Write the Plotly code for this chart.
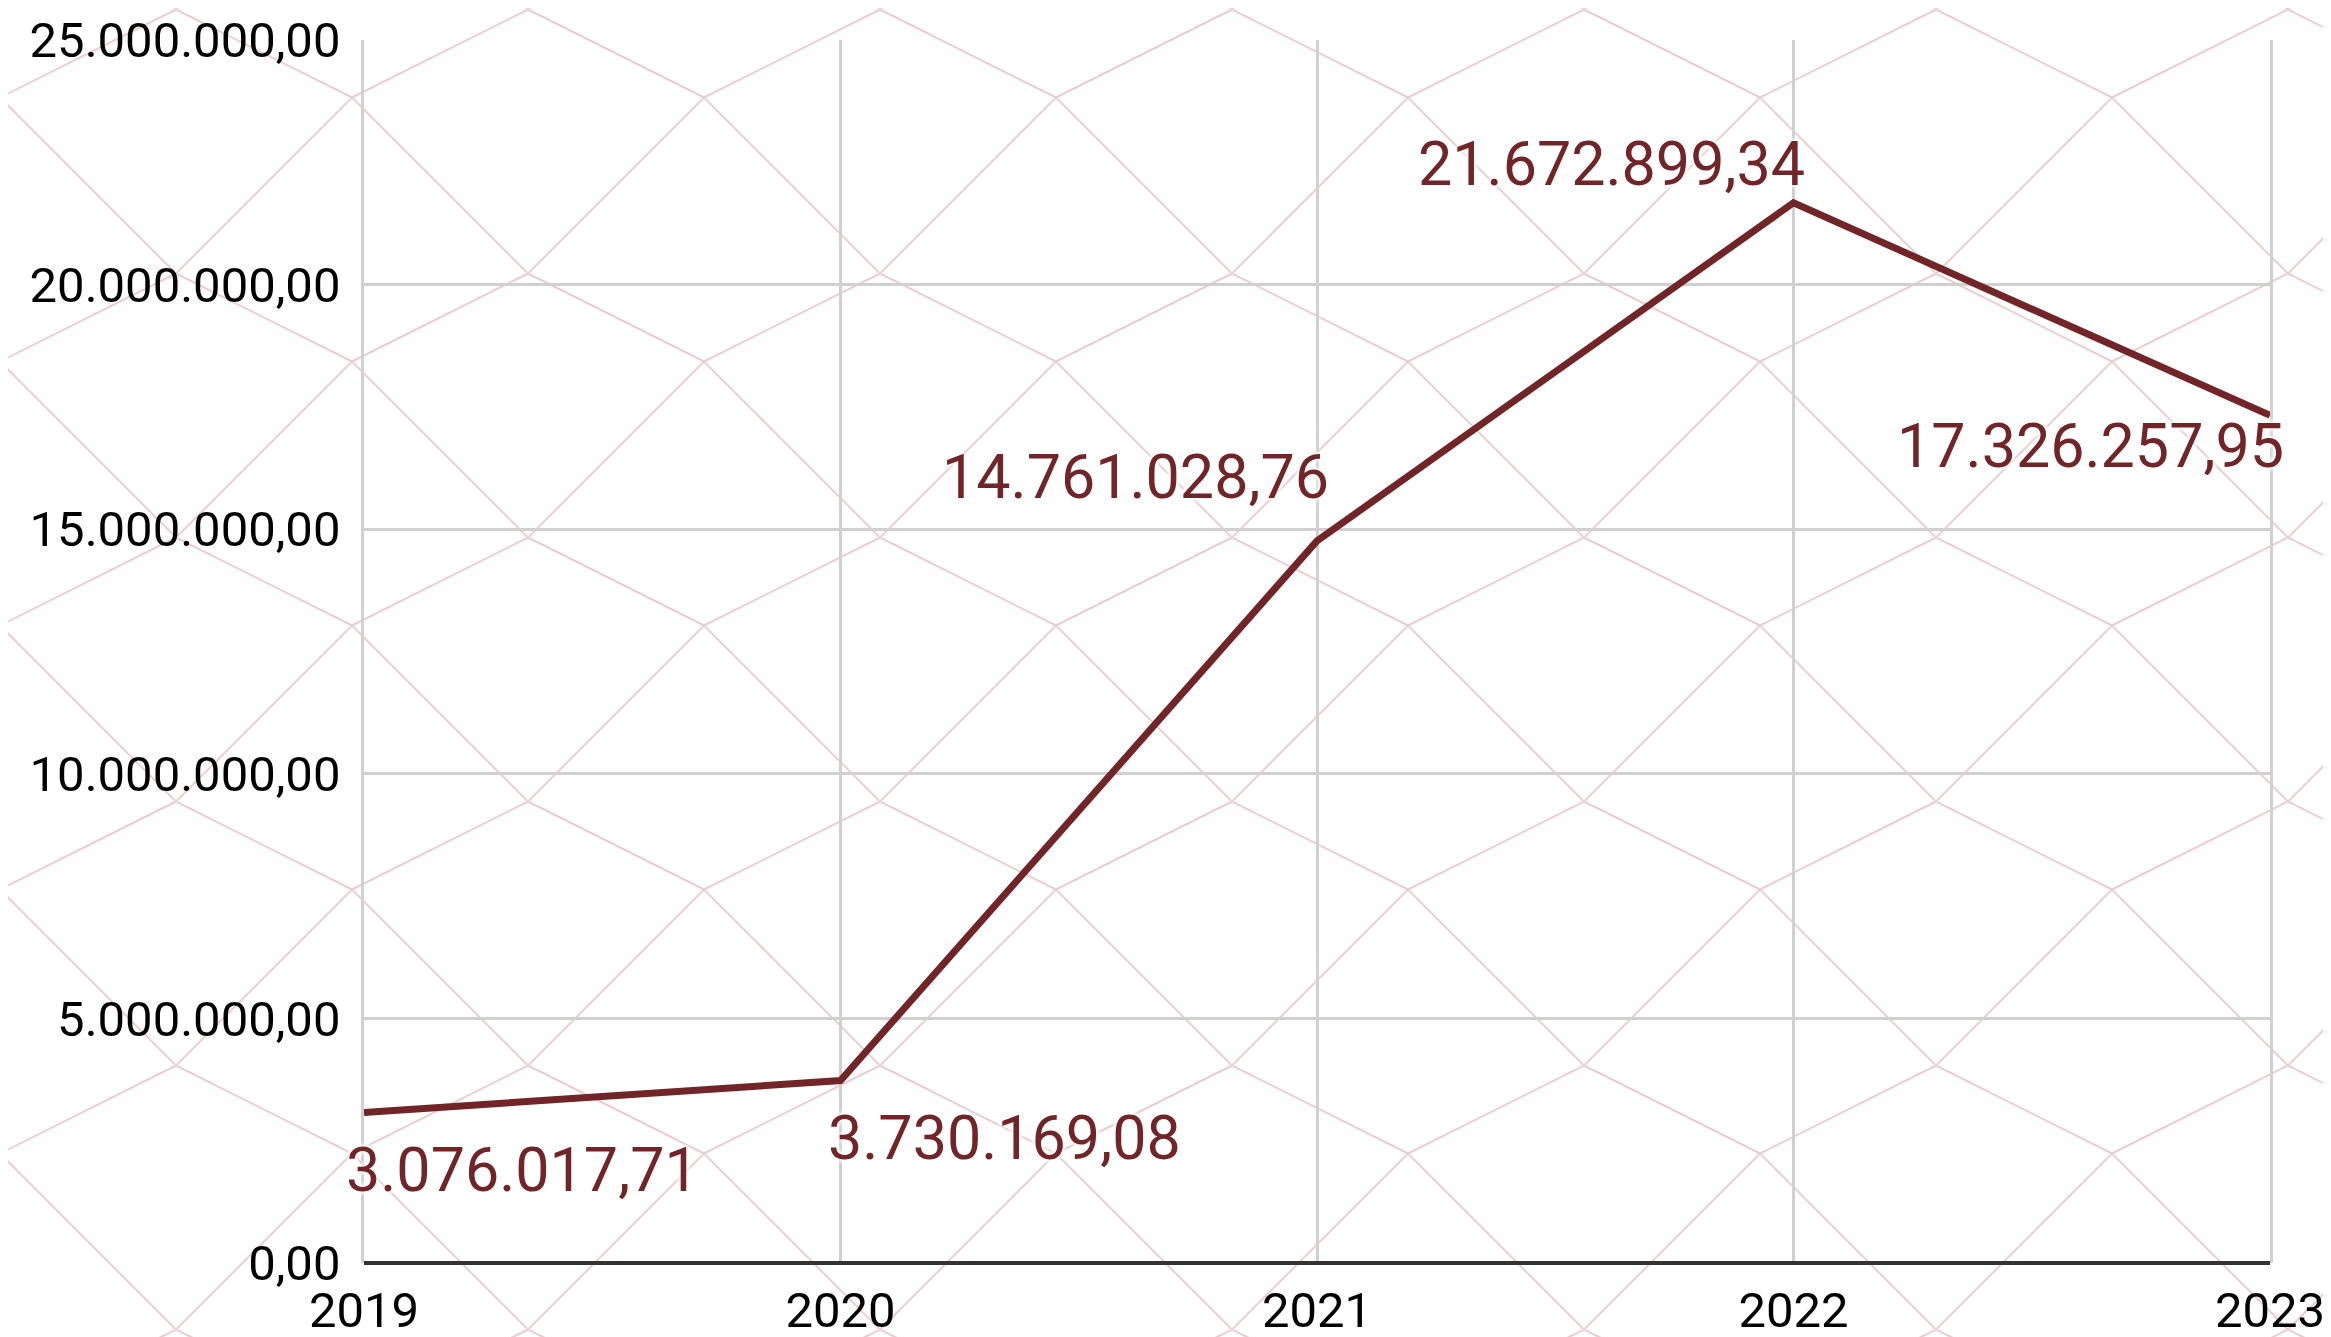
"""
plot.py — 年度金額折線圖（含背景幾何紋路）
"""
import plotly.graph_objects as go

# 資料
years = [2019, 2020, 2021, 2022, 2023]
values = [3076017.71, 3730169.08, 14761028.76, 21672899.34, 17326257.95]
y_ticks = [0, 5000000, 10000000, 15000000, 20000000, 25000000]

# 標籤位置（對齊方式、像素位移）
label_anchor = ['left', 'left', 'right', 'right', 'right']
label_xshift = [-20, -15, 14, 13, 16]
label_yshift = [-57, -57, 64, 39, -31]

W, H = 2331, 1337
OFF = 8  # 頁面 body 預設邊距
ML, MR, MT, MB = 356, 69, 32, 82
LINE_COLOR = '#722528'
GRID = '#d0d0d0'
FONT = 'Roboto, "Noto Sans", sans-serif'


def fmt_br(v):
    """千分位用點、小數用逗號。"""
    return f'{v:,.2f}'.replace(',', 'X').replace('.', ',').replace('X', '.')


def pattern_path():
    """背景折線紋路，螢幕像素座標換算為 paper 座標。"""
    pw = W - ML - MR
    ph = H - MT - MB

    def p(x, y):
        x, y = x - OFF, y - OFF
        return f'{(x - ML) / pw:.5f},{(H - MB - y) / ph:.5f}'

    parts = []
    for k in range(-1, 9):
        for m in range(-2, 7):
            tx, ty = 352 * k, 97.5 + 264 * m
            bx, by = tx + 176, ty + 176
            # 陡線：T -> 兩側 B
            parts.append(f'M{p(tx, ty)} L{p(tx - 176, ty + 176)}')
            parts.append(f'M{p(tx, ty)} L{p(tx + 176, ty + 176)}')
            # 緩線：B -> 下方兩側 T
            parts.append(f'M{p(bx, by)} L{p(bx - 176, by + 88)}')
            parts.append(f'M{p(bx, by)} L{p(bx + 176, by + 88)}')
    return ' '.join(parts)


fig = go.Figure()

fig.add_trace(go.Scatter(
    x=years, y=values, mode='lines',
    line=dict(color=LINE_COLOR, width=7),
    cliponaxis=False, hoverinfo='skip', showlegend=False,
))

for yr, v, anc, dx, dy in zip(years, values, label_anchor, label_xshift, label_yshift):
    fig.add_annotation(
        x=yr, y=v, text=fmt_br(v), showarrow=False,
        xanchor=anc, yanchor='middle', xshift=dx, yshift=dy,
        font=dict(family=FONT, size=61, color=LINE_COLOR,
                  shadow='0 0 6px #fff, 0 0 6px #fff, 0 0 4px #fff'),
    )

fig.add_shape(
    type='path', xref='paper', yref='paper', path=pattern_path(),
    line=dict(color='#eacfcf', width=2), layer='below',
)

tick_font = dict(family=FONT, size=49, color='#000')

fig.update_layout(
    width=W, height=H,
    margin=dict(l=ML, r=MR, t=MT, b=MB, autoexpand=False),
    paper_bgcolor='white',
    plot_bgcolor='rgba(0,0,0,0)',
    separators=',.',
    font=dict(family=FONT, size=49, color='#000'),
    showlegend=False,
    xaxis=dict(
        range=[2019, 2023], tickmode='array', tickvals=years,
        ticktext=[str(y) for y in years],
        showgrid=True, gridcolor=GRID, gridwidth=2.5,
        zeroline=False, showline=False, ticks='', ticklabelstandoff=14,
        automargin=False, tickfont=tick_font,
    ),
    # 上方框線（25.000.000,00 格線）
    xaxis2=dict(
        overlaying='x', side='top', anchor='y', range=[2019, 2023],
        showline=True, linecolor=GRID, linewidth=2.5,
        showgrid=False, zeroline=False, showticklabels=False,
        ticks='', automargin=False,
    ),
    yaxis=dict(
        range=[0, 25000000], tickmode='array', tickvals=y_ticks,
        tickformat=',.2f',
        showgrid=True, gridcolor=GRID, gridwidth=2.5,
        zeroline=True, zerolinecolor='#333333', zerolinewidth=4,
        showline=True, mirror=True, linecolor=GRID, linewidth=2.5,
        ticks='', ticklabelstandoff=11, automargin=False,
        tickfont=tick_font,
    ),
)

fig.write_html('out.html')
